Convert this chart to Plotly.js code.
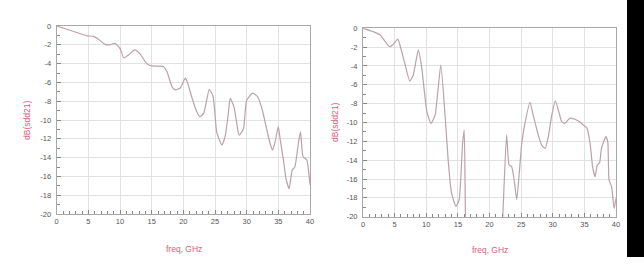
<!DOCTYPE html>
<html><head><meta charset="utf-8">
<script src="https://cdn.plot.ly/plotly-3.0.1.min.js"></script>
<style>html,body{margin:0;padding:0;background:#fff}#c{width:644px;height:270px}</style>
</head><body><div id="c"></div>
<script>
// Left chart: dB(sdd21) vs freq (GHz)
const freqLeft = [0,2.1,4.7,5.8,6.6,7.6,8.4,9.2,10.0,10.6,11.3,12.3,13.2,14.2,15.0,16.8,17.4,18.2,18.7,19.5,20.3,20.6,21.3,22.1,22.6,23.2,24.1,24.7,25.3,26.1,26.6,27.1,27.4,28.0,28.7,28.9,29.5,30.0,30.95,31.7,32.4,33.2,33.7,34.1,34.5,35.0,35.3,35.8,36.2,36.7,37.2,37.6,38.2,38.5,38.9,39.5,39.9,40];
const dbLeft   = [0,-0.45,-1.03,-1.1,-1.4,-1.95,-2.0,-1.85,-2.4,-3.4,-3.1,-2.55,-3.0,-4.0,-4.25,-4.3,-4.85,-6.45,-6.8,-6.6,-5.55,-5.9,-7.5,-9.1,-9.65,-9.3,-6.75,-7.5,-11.4,-12.65,-11.75,-9.3,-7.7,-8.6,-11.4,-11.6,-10.9,-7.9,-7.15,-7.5,-8.75,-11.1,-12.5,-13.2,-12.3,-10.7,-12.1,-14.25,-16.2,-17.3,-15.3,-15.0,-12.3,-11.25,-13.9,-14.25,-16.2,-16.9];
// Right chart
const freqRight = [0,1.6,2.7,3.5,4.2,4.8,5.5,5.85,6.6,7.4,7.95,8.75,9.3,10.1,10.75,11.4,12.3,13.0,13.5,14.0,14.7,15.2,15.75,16.0,16.2,16.5,21.8,22.1,22.7,23.1,23.5,23.9,24.3,24.7,25.1,25.6,26.4,26.9,27.7,28.25,28.8,29.3,29.8,30.4,31.1,31.4,31.9,32.7,33.5,34.2,34.8,35.4,35.9,36.3,36.7,37.05,37.4,37.7,38.4,38.7,38.9,39.3,39.7,40];
const dbRight   = [0,-0.35,-0.7,-1.4,-1.95,-1.7,-1.15,-1.8,-3.7,-5.6,-4.95,-2.3,-4.25,-8.85,-10.1,-9.2,-3.9,-9.5,-14.3,-17.5,-18.9,-18.2,-12.2,-10.8,-19.8,-24,-24,-20,-11.3,-14.5,-14.7,-16.1,-18.2,-15.4,-12.2,-10.1,-7.85,-9.2,-11.3,-12.4,-12.75,-11.5,-9.4,-7.7,-9.2,-9.9,-10.1,-9.55,-9.65,-9.9,-10.25,-10.6,-12.2,-14.7,-15.75,-14.5,-14.3,-12.75,-11.5,-12.05,-16.1,-16.8,-19.1,-18.05];
const xTickVals = [0,5,10,15,20,25,30,35,40];
const yTickVals = [0,-2,-4,-6,-8,-10,-12,-14,-16,-18,-20];
const xTitle = "freq, GHz";
const yTitle = "dB(sdd21)";

const lineStyle = {color:'#bda0a8', width:1.2, shape:'spline', smoothing:0.5};
const traces = [
  {x:freqLeft, y:dbLeft, mode:'lines', line:lineStyle, xaxis:'x', yaxis:'y', hoverinfo:'skip'},
  {x:freqRight, y:dbRight, mode:'lines', line:lineStyle, xaxis:'x2', yaxis:'y2', hoverinfo:'skip'}
];
const tf = {family:'Liberation Sans, Arial, sans-serif', size:7.5, color:'#555'};
function xa(dom, anchor){return {domain:dom, anchor:anchor, range:[0,40], tickvals:xTickVals, ticktext:xTickVals.map(String),
  showgrid:true, gridcolor:'#e2e2e2', gridwidth:1, showline:true, linecolor:'#a8a8a8', linewidth:1, mirror:true,
  ticks:'inside', ticklen:4, tickcolor:'#888', tickfont:tf, zeroline:false, fixedrange:true,
  minor:{dtick:1, ticks:'inside', ticklen:3, tickcolor:'#888', showgrid:false}};}
function ya(dom, anchor){return {domain:dom, anchor:anchor, range:[-20,0], tickvals:yTickVals, ticktext:yTickVals.map(String),
  showgrid:true, gridcolor:'#e2e2e2', gridwidth:1, showline:true, linecolor:'#a8a8a8', linewidth:1, mirror:true,
  ticks:'inside', ticklen:4, tickcolor:'#888', tickfont:tf, zeroline:false, fixedrange:true, ticklabelstandoff:3,
  minor:{dtick:1, ticks:'inside', ticklen:3, tickcolor:'#888', showgrid:false}};}
const W=644,H=270;
const titleFont = {family:'Liberation Sans, Arial, sans-serif', size:8.5, color:'#d9607a'};
const layout = {
  width:W, height:H, margin:{l:0,r:0,t:0,b:0}, paper_bgcolor:'#fff', plot_bgcolor:'#fff', showlegend:false,
  xaxis: xa([56.7/W, 310/W], 'y'),
  yaxis: ya([1-214/H, 1-26/H], 'x'),
  xaxis2: xa([363/W, 616/W], 'y2'),
  yaxis2: ya([1-216.7/H, 1-28.3/H], 'x2'),
  annotations:[
    {text:xTitle, xref:'paper', yref:'paper', x:184/W, y:1-249/H, showarrow:false, font:titleFont, xanchor:'center', yanchor:'middle'},
    {text:xTitle, xref:'paper', yref:'paper', x:490/W, y:1-250/H, showarrow:false, font:titleFont, xanchor:'center', yanchor:'middle'},
    {text:yTitle, xref:'paper', yref:'paper', x:27/W, y:1-121/H, showarrow:false, font:titleFont, textangle:-90, xanchor:'center', yanchor:'middle'},
    {text:yTitle, xref:'paper', yref:'paper', x:335/W, y:1-123/H, showarrow:false, font:titleFont, textangle:-90, xanchor:'center', yanchor:'middle'}
  ],
  shapes:[
    {type:'rect', xref:'paper', yref:'paper', x0:627/W, x1:1, y0:1-257/H, y1:1, fillcolor:'#000', line:{width:0}, layer:'above'}
  ]
};
Plotly.newPlot('c', traces, layout, {displayModeBar:false, staticPlot:true});
</script></body></html>
